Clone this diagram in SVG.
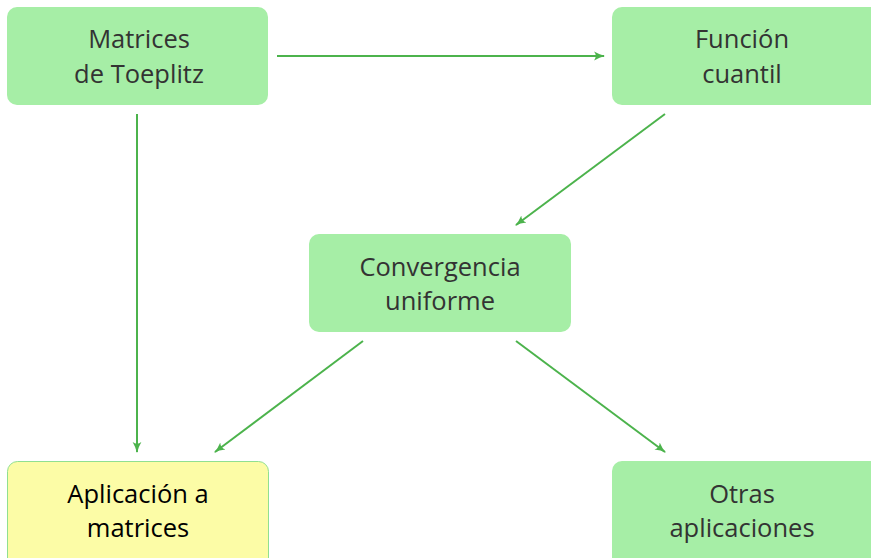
<svg xmlns="http://www.w3.org/2000/svg" width="871" height="558" viewBox="0 0 871 558">
<defs>
<marker id="arr" viewBox="0 0 10 10" refX="9" refY="5" markerWidth="11" markerHeight="11" markerUnits="userSpaceOnUse" orient="auto">
<path d="M0,1 Q5,4 10,5 Q5,6 0,9 Q3,5 0,1 Z" fill="#4cb34c"/>
</marker>
</defs>
<style>
.box{fill:#a6eea6;stroke:none}
.ybox{fill:#fcfca6;stroke:#90e090;stroke-width:1}
.t{font-family:"Open Sans","Liberation Sans",sans-serif;font-size:25.5px;fill:#333;text-anchor:middle}
.tb{fill:#000}
.c{stroke:#4cb34c;stroke-width:2;fill:none;marker-end:url(#arr)}
</style>
<rect width="871" height="558" fill="#fff"/>
<g id="connectors">
<line class="c" x1="277" y1="56" x2="604" y2="56"/>
<line class="c" x1="137" y1="114" x2="137" y2="452"/>
<line class="c" x1="665" y1="114" x2="516" y2="225"/>
<line class="c" x1="363" y1="341" x2="215" y2="452"/>
<line class="c" x1="516" y1="341" x2="665" y2="452"/>
</g>
<g id="toeplitz">
<rect class="box" x="7" y="7" width="261" height="98" rx="10"/>
<text class="t" x="139" y="48">Matrices</text>
<text class="t" x="139" y="83">de Toeplitz</text>
</g>
<g id="cuantil">
<rect class="box" x="612" y="7" width="270" height="98" rx="10"/>
<text class="t" x="742" y="48">Función</text>
<text class="t" x="742" y="83">cuantil</text>
</g>
<g id="convergencia">
<rect class="box" x="309" y="234" width="262" height="98" rx="10"/>
<text class="t" x="440" y="276">Convergencia</text>
<text class="t" x="440" y="310">uniforme</text>
</g>
<g id="aplicacion">
<rect class="ybox" x="7.5" y="461.5" width="261" height="110" rx="10"/>
<text class="t tb" x="138" y="503">Aplicación a</text>
<text class="t tb" x="138" y="537">matrices</text>
</g>
<g id="otras">
<rect class="box" x="612" y="461" width="270" height="110" rx="10"/>
<text class="t" x="742" y="503">Otras</text>
<text class="t" x="742" y="537">aplicaciones</text>
</g>
</svg>
